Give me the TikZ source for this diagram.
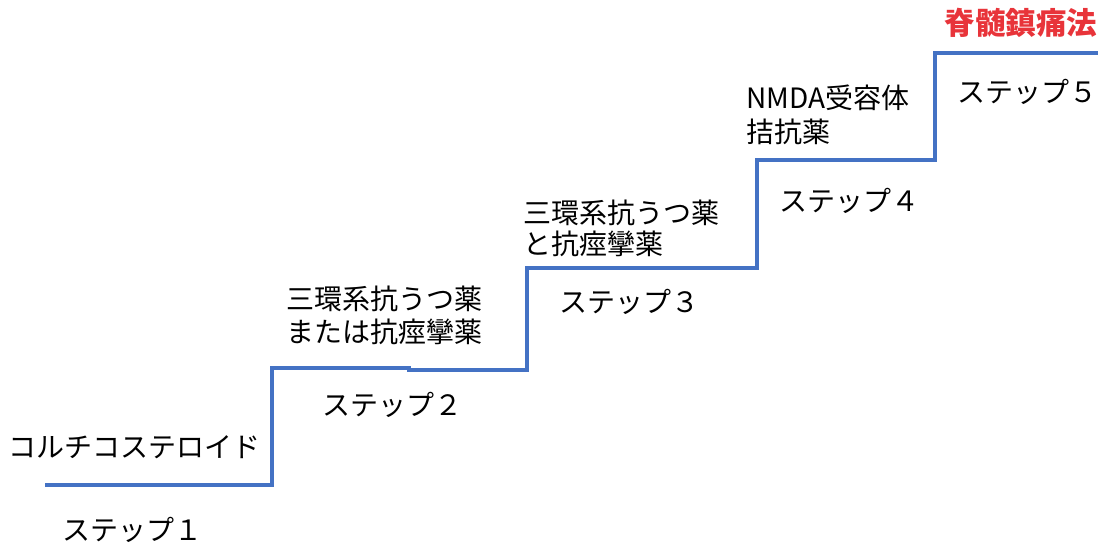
\documentclass[tikz,border=0pt]{standalone}
\usepackage{fontspec}
\setmainfont{Noto Sans CJK JP}
\newfontfamily\jpfont{Noto Sans CJK JP}
\definecolor{stairblue}{RGB}{68,114,196}
\definecolor{titlered}{RGB}{232,52,58}
\tikzset{
  stair/.style={draw=stairblue, line width=4pt, line join=miter, line cap=butt},
  lbl/.style={inner sep=0pt, font=\fontsize{28}{32}\selectfont\jpfont, text=black},
  ttl/.style={inner sep=0pt, font=\fontsize{30.5}{34}\selectfont\jpfont\bfseries, text=titlered}
}
\begin{document}
\begin{tikzpicture}[x=1pt,y=-1pt]
\useasboundingbox (0,0) rectangle (1102,543);
% staircase corners
\coordinate (p0) at (45,485);
\coordinate (p1) at (272,485);
\coordinate (p2) at (272,368);
\coordinate (p3) at (409,368);
\coordinate (p4) at (409,370);
\coordinate (p5) at (527,370);
\coordinate (p6) at (527,268);
\coordinate (p7) at (757,268);
\coordinate (p8) at (757,160);
\coordinate (p9) at (935,160);
\coordinate (p10) at (935,53);
\coordinate (p11) at (1098,53);
\draw[stair] (p0) -- (p1) -- (p2) -- (p3) -- (p4) -- (p5) -- (p6) -- (p7) -- (p8) -- (p9) -- (p10) -- (p11);
% labels
\node[lbl, anchor=base] (d1) at (134.5,457.5) {コルチコステロイド};
\node[lbl, anchor=base] (s1) at (132.5,540.5) {ステップ１};
\node[lbl, anchor=base] (s2) at (392,415.5) {ステップ２};
\node[lbl, anchor=base west] (d2a) at (286,309.5) {三環系抗うつ薬};
\node[lbl, anchor=base west] (d2b) at (286,342.5) {または抗痙攣薬};
\node[lbl, anchor=base west] (d3a) at (523,223.5) {三環系抗うつ薬};
\node[lbl, anchor=base west] (d3b) at (523,254.5) {と抗痙攣薬};
\node[lbl, anchor=base] (s3) at (629,312.5) {ステップ３};
\node[lbl, anchor=base west] (d4a) at (746,108) {NMDA受容体};
\node[lbl, anchor=base west] (d4b) at (746,142.5) {拮抗薬};
\node[lbl, anchor=base] (s4) at (849,211.5) {ステップ４};
\node[lbl, anchor=base] (s5) at (1027,102.5) {ステップ５};
\node[ttl, anchor=base] (d5) at (1021,35) {脊髄鎮痛法};
\end{tikzpicture}
\end{document}
